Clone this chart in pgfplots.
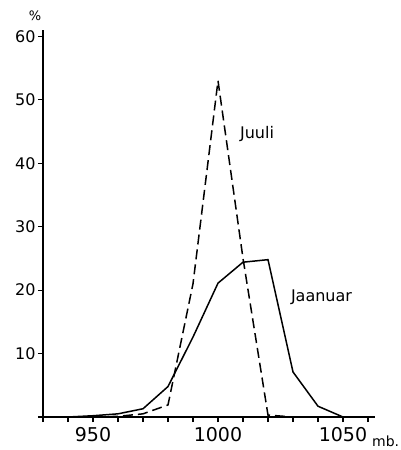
\documentclass[border=0pt]{standalone}
\usepackage{pgfplots}
\pgfplotsset{compat=1.18}
\usepackage{fontspec}
\setmainfont{DejaVu Sans}
\begin{document}
\begin{tikzpicture}
\useasboundingbox (-43pt,-33pt) rectangle (357pt,417pt);
\begin{axis}[
  at={(0,0)}, anchor=south west,
  scale only axis, width=332pt, height=387pt,
  xmin=930, xmax=1062.8, ymin=0, ymax=61,
  axis x line=bottom, axis y line=left,
  x axis line style={-, line width=2pt},
  y axis line style={-, line width=2.6pt},
  xtick={950,1000,1050}, minor xtick={930,940,...,1060},
  ytick={0,10,...,60}, yticklabels={,10,20,30,40,50,60},
  tick align=outside, major tick length=5pt, minor tick length=5pt,
  tick style={line width=1.1pt, black},
  xticklabel style={font=\fontsize{19}{20}\selectfont, yshift=-2pt},
  yticklabel style={font=\fontsize{16}{18}\selectfont, xshift=1pt},
  /pgf/number format/assume math mode=true,
  /pgf/number format/1000 sep={},
  clip=false,
]
\addplot[black, line width=1.5pt] coordinates {
(940,0) (950,0.2) (960,0.5) (970,1.3) (980,4.8) (990,12.6) (1000,21.1)
(1010,24.4) (1020,24.8) (1030,7.1) (1040,1.7) (1050,0)};
\addplot[black, line width=1.5pt, dash pattern=on 10pt off 5pt] coordinates {
(950,0) (960,0.1) (970,0.5) (980,1.9) (990,21) (1000,53)
(1010,25) (1020,0.3) (1030,0)};
\node[font=\fontsize{16}{18}\selectfont] at (axis cs:1015.6,44.6) {Juuli};
\node[font=\fontsize{16}{18}\selectfont] at (axis cs:1041.4,18.9) {Jaanuar};
\node[font=\fontsize{13}{14}\selectfont] at (axis cs:926.8,63.2) {\%};
\node[font=\fontsize{14}{16}\selectfont, anchor=base west, inner sep=0pt] at (axis cs:1061.6,-4.6) {mb.};
\end{axis}
\end{tikzpicture}
\end{document}
